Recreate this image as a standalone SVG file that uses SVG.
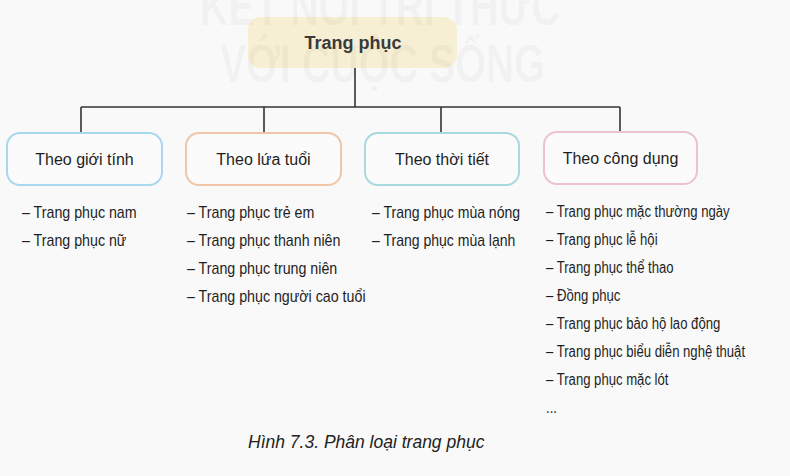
<svg xmlns="http://www.w3.org/2000/svg" width="790" height="476" viewBox="0 0 790 476">
<style>
.bg{fill:#f9f9f9}
.box{fill:#fbfbfb;stroke-width:2}
.lbl{font-family:"Liberation Sans",Arial,sans-serif;font-size:16px;fill:#1e1e1e;text-anchor:middle}
.item{font-family:"Liberation Sans",Arial,sans-serif;font-size:16px;fill:#1e1e1e}
.wm{font-family:"Liberation Sans",Arial,sans-serif;font-size:54px;font-weight:bold;fill:#000;fill-opacity:0.04}
.conn{stroke:#333;stroke-width:1.6;fill:none}
</style>
<rect class="bg" x="0" y="0" width="790" height="476"/>

<g id="root">
  <rect x="248" y="17" width="209" height="51" rx="13" fill="#f7efd3"/>
  <text x="353" y="49" font-family="Liberation Sans,Arial,sans-serif" font-size="18" font-weight="bold" fill="#3a3a3a" text-anchor="middle">Trang phục</text>
</g>

<g id="watermark">
  <text class="wm" x="200" y="25" textLength="360" lengthAdjust="spacingAndGlyphs">KẾT NỐI TRI THỨC</text>
  <text class="wm" x="220" y="82" textLength="325" lengthAdjust="spacingAndGlyphs">VỚI CUỘC SỐNG</text>
</g>

<g id="connectors">
  <path class="conn" d="M355 68 V107 M81 107 H620 M81 107 V133 M264 107 V133 M441 107 V133 M620 107 V132"/>
</g>

<g id="gioitinh">
  <rect class="box" x="7" y="133" width="155" height="52" rx="13" stroke="#a9d7ee"/>
  <text class="lbl" x="84.5" y="165">Theo giới tính</text>
  <g transform="translate(22 0) scale(0.89 1)">
    <text class="item" x="0" y="218">– Trang phục nam</text>
    <text class="item" x="0" y="246">– Trang phục nữ</text>
  </g>
</g>

<g id="luatuoi">
  <rect class="box" x="186" y="133" width="155" height="52" rx="13" stroke="#f0c6a8"/>
  <text class="lbl" x="263.5" y="165">Theo lứa tuổi</text>
  <g transform="translate(187 0) scale(0.89 1)">
    <text class="item" x="0" y="218">– Trang phục trẻ em</text>
    <text class="item" x="0" y="246">– Trang phục thanh niên</text>
    <text class="item" x="0" y="274">– Trang phục trung niên</text>
    <text class="item" x="0" y="302">– Trang phục người cao tuổi</text>
  </g>
</g>

<g id="thoitiet">
  <rect class="box" x="365" y="133" width="154" height="52" rx="13" stroke="#a9d9de"/>
  <text class="lbl" x="442" y="165">Theo thời tiết</text>
  <g transform="translate(372 0) scale(0.877 1)">
    <text class="item" x="0" y="218">– Trang phục mùa nóng</text>
    <text class="item" x="0" y="246">– Trang phục mùa lạnh</text>
  </g>
</g>

<g id="congdung">
  <rect class="box" x="544" y="132" width="153" height="52" rx="13" stroke="#ecc2d2"/>
  <text class="lbl" x="620.5" y="164">Theo công dụng</text>
  <g transform="translate(546 0) scale(0.82 1)">
    <text class="item" x="0" y="217">– Trang phục mặc thường ngày</text>
    <text class="item" x="0" y="245">– Trang phục lễ hội</text>
    <text class="item" x="0" y="273">– Trang phục thể thao</text>
    <text class="item" x="0" y="301">– Đồng phục</text>
    <text class="item" x="0" y="329">– Trang phục bảo hộ lao động</text>
    <text class="item" x="0" y="357">– Trang phục biểu diễn nghệ thuật</text>
    <text class="item" x="0" y="385">– Trang phục mặc lót</text>
    <text class="item" x="0" y="413">...</text>
  </g>
</g>

<text id="caption" x="248" y="448" font-family="Liberation Sans,Arial,sans-serif" font-size="17.5" font-style="italic" fill="#222">Hình 7.3. Phân loại trang phục</text>
</svg>
